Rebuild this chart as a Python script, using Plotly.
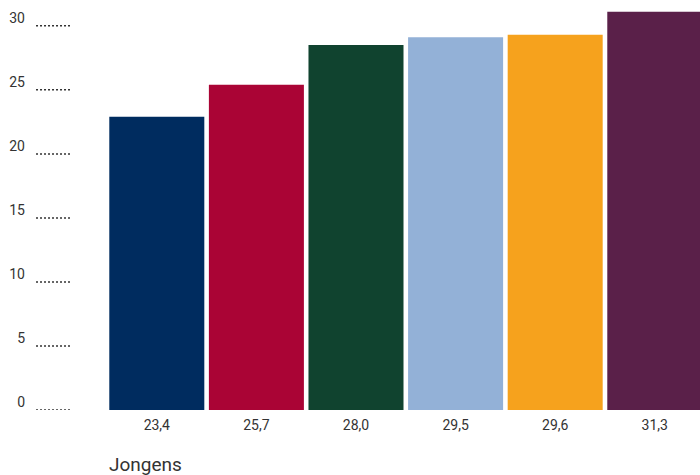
import plotly.graph_objects as go

categories = ["23,4", "25,7", "28,0", "29,5", "29,6", "31,3"]
values = [22.9, 25.4, 28.5, 29.1, 29.3, 31.1]
colors = ["#002C5F", "#AA0435", "#10432F", "#93B1D7", "#F6A21D", "#5A2049"]
y_ticks = [0, 5, 10, 15, 20, 25, 30]
group_label = "Jongens"

fig = go.Figure(go.Bar(x=categories, y=values, marker=dict(color=colors, line=dict(width=0)),
                       hoverinfo="skip"))

shapes = []
for t in y_ticks:
    shapes.append(dict(type="line", xref="paper", yref="y", x0=-0.1197, x1=-0.0624,
                       y0=t, y1=t, line=dict(color="#333333", width=1.5, dash="2px,2px")))

fig.update_layout(
    width=700, height=475,
    margin=dict(l=107, r=0, t=6, b=65),
    paper_bgcolor="white", plot_bgcolor="white",
    bargap=0.046,
    showlegend=False,
    font=dict(family="Roboto", size=14, color="#333333"),
    shapes=shapes,
    xaxis=dict(range=[-0.5, 5.454], showgrid=False, zeroline=False, showline=False,
               ticks="", tickfont=dict(size=14, color="#333333"), ticklabelstandoff=5,
               fixedrange=True),
    yaxis=dict(range=[0, 31.55], tickvals=y_ticks, ticktext=[str(t) for t in y_ticks],
               showgrid=False, zeroline=False, showline=False, ticks="",
               tickfont=dict(size=14, color="#333333"), ticklabelstandoff=81,
               ticklabelshift=-8, fixedrange=True),
    annotations=[dict(text=group_label, xref="paper", yref="paper", x=0.0, y=-54/404,
                      xanchor="left", yanchor="middle", showarrow=False,
                      font=dict(family="Roboto", size=19, color="#333333"))],
)

fig.write_html("out.html", config={"displayModeBar": False},
               post_script="document.body.style.margin='0';document.body.style.overflow='hidden';")
